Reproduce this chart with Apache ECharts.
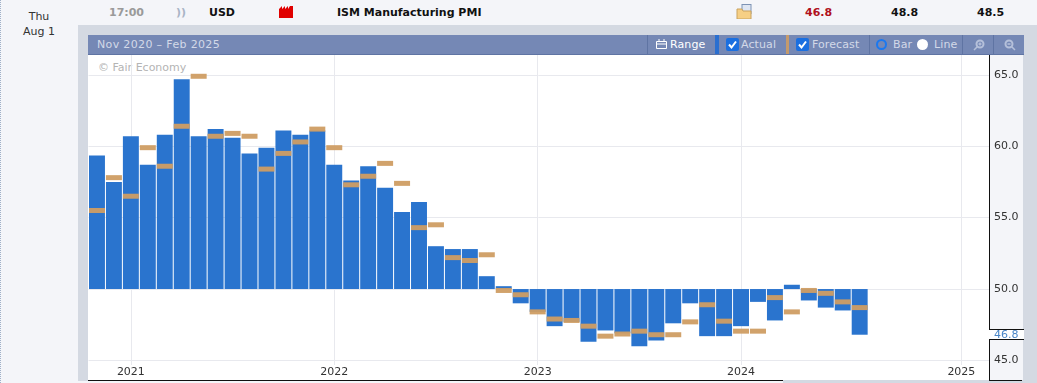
<!DOCTYPE html>
<html>
<head>
<meta charset="utf-8">
<script src="https://cdn.jsdelivr.net/npm/echarts@6/dist/echarts.min.js"></script>
<style>
  html, body { margin: 0; padding: 0; }
  body { width: 1037px; height: 383px; overflow: hidden; position: relative; background: #d4d9e2;
         font-family: "DejaVu Sans", sans-serif; font-size: 11px; }
  .box { position: absolute; }
  .txt { position: absolute; white-space: nowrap; line-height: 14px; }
  .bar-txt { color: #d3d9e8; top: 38px; font-size: 11px; letter-spacing: 0.1px; }
  .sep { position: absolute; top: 35px; height: 19px; width: 1px; background: #5f74a3; }
  .check { position: absolute; top: 38px; width: 13px; height: 13px; border-radius: 2px; background: #1a6fe0; }
  .radio { position: absolute; top: 39px; width: 11px; height: 11px; border-radius: 50%; }
  #chart { position: absolute; left: 0; top: 0; width: 1037px; height: 383px; }
</style>
</head>
<body>
<!-- calendar row and left column -->
<div class="box" style="left:0;top:0;width:78px;height:383px;background:#f4f5f9;border-left:1px dotted #9fb0c8;box-sizing:border-box"></div>
<div class="box" style="left:78px;top:0;width:959px;height:25px;background:#f4f5f9"></div>
<div class="txt" style="left:0;width:78px;text-align:center;top:10px;color:#333">Thu</div>
<div class="txt" style="left:0;width:78px;text-align:center;top:25px;color:#333">Aug 1</div>
<div class="txt" style="left:109px;top:6px;color:#9a9a9a;font-weight:bold">17:00</div>
<div class="txt" style="left:176px;top:6px;color:#a9b4c6;font-weight:bold">))</div>
<div class="txt" style="left:209px;top:6px;color:#111;font-weight:bold">USD</div>
<svg class="box" style="left:279px;top:6px" width="15" height="13"><path d="M0 3 L3 0 L3 3 L6 0 L6 3 L9 0 L9 3 L11 0 L14 0 L14 12 L0 12 Z" fill="#e00000"/></svg>
<div class="txt" style="left:337px;top:6px;color:#111;font-weight:bold">ISM Manufacturing PMI</div>
<svg class="box" style="left:736px;top:4px" width="17" height="15"><rect x="6" y="0.5" width="9" height="9" fill="#dfe6f2" stroke="#7d93b5"/><path d="M1 5 H6 L7 7 H15 V15 H1 Z" fill="#f6cf85" stroke="#c9a25e"/></svg>
<div class="txt" style="left:805px;top:6px;color:#b01020;font-weight:bold">46.8</div>
<div class="txt" style="left:891px;top:6px;color:#111;font-weight:bold">48.8</div>
<div class="txt" style="left:977px;top:6px;color:#111;font-weight:bold">48.5</div>

<!-- chart toolbar -->
<div class="box" style="left:88px;top:35px;width:936px;height:19px;background:#7588b5;border-bottom:1px solid #5f74a3"></div>
<div class="txt bar-txt" style="left:97px;letter-spacing:0.35px">Nov 2020 – Feb 2025</div>
<div class="sep" style="left:647px"></div>
<svg class="box" style="left:656px;top:38px" width="12" height="12"><path d="M0.5 3.5 H10.5 V10.5 H0.5 Z M0.5 6 H10.5 M3 1 V3 M8 1 V3" fill="none" stroke="#fff"/></svg>
<div class="txt bar-txt" style="left:670px;color:#fff;font-size:11px">Range</div>
<div class="box" style="left:715px;top:35px;width:4px;height:19px;background:#2a6fd0"></div>
<div class="check" style="left:726px"><svg width="13" height="13"><path d="M3 6.5 L5.5 9.5 L10 3.5" fill="none" stroke="#fff" stroke-width="2"/></svg></div>
<div class="txt bar-txt" style="left:741px">Actual</div>
<div class="box" style="left:786px;top:35px;width:3px;height:19px;background:#c49a6c"></div>
<div class="check" style="left:796px"><svg width="13" height="13"><path d="M3 6.5 L5.5 9.5 L10 3.5" fill="none" stroke="#fff" stroke-width="2"/></svg></div>
<div class="txt bar-txt" style="left:812px">Forecast</div>
<div class="sep" style="left:869px"></div>
<div class="radio" style="left:876px;box-sizing:border-box;background:#7588b5;border:2px solid #1a78f0"></div>
<div class="txt bar-txt" style="left:893px">Bar</div>
<div class="radio" style="left:917px;background:#fff"></div>
<div class="txt bar-txt" style="left:934px">Line</div>
<div class="sep" style="left:962px"></div>
<svg class="box" style="left:973px;top:39px" width="13" height="12"><circle cx="7" cy="5" r="3.5" fill="none" stroke="#b5c0da" stroke-width="2"/><path d="M4.5 7.5 L1 11 M5.5 5 H8.5 M7 3.5 V6.5" stroke="#b5c0da" stroke-width="1.5"/></svg>
<div class="sep" style="left:993px"></div>
<svg class="box" style="left:1003px;top:39px" width="13" height="12"><circle cx="6" cy="5" r="3.5" fill="none" stroke="#b5c0da" stroke-width="2"/><path d="M8.5 7.5 L12 11 M4.5 5 H7.5" stroke="#b5c0da" stroke-width="1.5"/></svg>

<!-- plot panel and price scale behind the transparent canvas -->
<div class="box" style="left:88px;top:55px;width:901px;height:325px;background:#fff"></div>
<div class="box" style="left:88px;top:380px;width:695px;height:1px;background:#111"></div>
<div class="box" style="left:78px;top:381px;width:705px;height:2px;background:#f4f5f9"></div>
<div class="box" style="left:989px;top:55px;width:34px;height:325px;background:#f4f5f9;border-left:1px solid #111;box-sizing:border-box"></div>
<div class="box" style="left:989px;top:380px;width:33px;height:1px;background:#111"></div>
<div class="box" style="left:989px;top:329px;width:35px;height:9px;background:#fff;border-top:1px solid #111;border-bottom:1px solid #111"></div>
<div class="txt" style="left:98px;top:61px;color:#b4b4b4">© Fair Economy</div>

<div id="chart"></div>
<script>
  // one entry per monthly release, Nov 2020 onwards
  const actual = [
    59.35, 57.5, 60.7, 58.7, 60.8, 64.7, 60.7, 61.2, 60.6, 59.5, 59.9, 61.1,
    60.8, 61.1, 58.7, 57.6, 58.6, 57.1, 55.4, 56.1, 53.0, 52.8, 52.8, 50.9,
    50.2, 49.0, 48.4, 47.4, 47.7, 46.3, 47.1, 46.9, 46.0, 46.4, 47.6, 49.0,
    46.7, 46.7, 47.4, 49.1, 47.8, 50.3, 49.2, 48.7, 48.5, 46.8
  ];
  const forecast = [
    55.5, 57.8, 56.5, 59.9, 58.6, 61.4, 64.9, 60.7, 60.9, 60.7, 58.4, 59.5,
    60.3, 61.2, 59.9, 57.3, 57.9, 58.8, 57.4, 54.3, 54.5, 52.2, 52.0, 52.4,
    49.9, 49.6, 48.4, 47.9, 47.8, 47.4, 46.7, 46.85, 47.05, 46.8, 46.8, 47.7,
    48.9, 47.75, 47.05, 47.05, 49.4, 48.4, 49.9, 49.7, 49.1, 48.7
  ];
  const yearTicks = [2, 14, 26, 38, 51];
  const yearLabels = ['2021', '2022', '2023', '2024', '2025'];
  const valueTicks = [45, 50, 55, 60, 65];
  const baseline = 50;
  const latest = 46.8;

  const chart = echarts.init(document.getElementById('chart'), null, { renderer: 'canvas' });

  const option = {
    backgroundColor: 'transparent',
    animation: false,
    grid: { left: 88.5, top: 55, width: 900.5, height: 310 },
    xAxis: {
      type: 'value',
      min: -0.5,
      max: 52.63,
      axisLine: { show: false },
      axisTick: { show: false, customValues: yearTicks },
      splitLine: { show: true, lineStyle: { color: '#e8e9ee', width: 1 } },
      axisLabel: {
        customValues: yearTicks,
        margin: 2,
        color: '#333',
        fontFamily: 'DejaVu Sans',
        fontSize: 11,
        formatter: (v) => yearLabels[yearTicks.indexOf(v)]
      }
    },
    yAxis: {
      type: 'value',
      position: 'right',
      min: 44.68,
      max: 66.39,
      axisLine: { show: false },
      axisTick: { show: false, customValues: valueTicks },
      splitLine: { show: true, lineStyle: { color: '#e8e9ee', width: 1 } },
      axisLabel: {
        customValues: valueTicks.concat([latest]),
        margin: 5,
        color: '#333',
        fontFamily: 'DejaVu Sans',
        fontSize: 11,
        formatter: (v) => v === latest ? '{last|' + v.toFixed(1) + '}' : v.toFixed(1),
        rich: { last: { color: '#4a86c8', fontFamily: 'DejaVu Sans', fontSize: 11 } }
      }
    },
    series: [
      {
        name: 'Actual',
        type: 'custom',
        clip: false,
        encode: { x: 0, y: 1 },
        data: actual.map((v, i) => [i, v]),
        renderItem: (params, api) => {
          const i = api.value(0);
          const v = api.value(1);
          const a = api.coord([i, baseline]);
          const b = api.coord([i, v]);
          const w = api.size([1, 0])[0] - 1;
          return {
            type: 'rect',
            shape: { x: a[0] - w / 2, y: Math.min(a[1], b[1]), width: w, height: Math.abs(a[1] - b[1]) },
            style: { fill: '#2a74ce' }
          };
        }
      },
      {
        name: 'Forecast',
        type: 'scatter',
        symbol: 'rect',
        symbolSize: [16, 5],
        z: 5,
        data: forecast.map((v, i) => [i, v]),
        itemStyle: { color: '#cf9d63', opacity: 0.95 }
      }
    ]
  };

  chart.setOption(option);
</script>
</body>
</html>
